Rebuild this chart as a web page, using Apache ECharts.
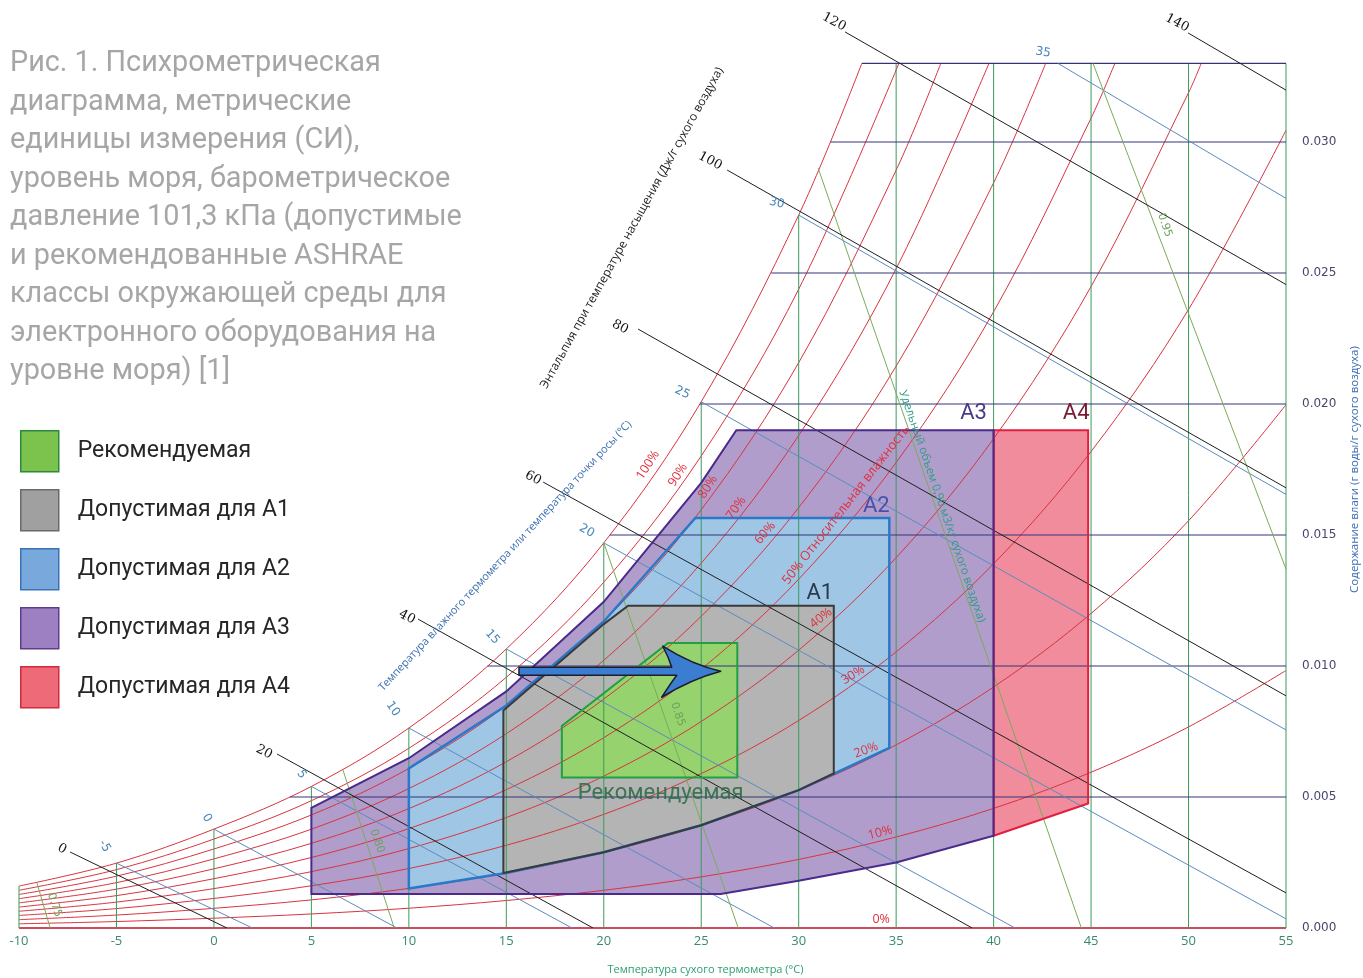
<!DOCTYPE html>
<html>
<head>
<meta charset="utf-8">
<script src="https://cdn.jsdelivr.net/npm/echarts@6/dist/echarts.min.js"></script>
<style>
  html, body { margin: 0; padding: 0; background: #ffffff; }
  #chart { width: 1363px; height: 978px; }
</style>
</head>
<body>
<div id="chart"></div>
<script>
// ---------- Psychrometric data (sea level, 101.3 kPa) ----------
// Dry-bulb temperatures (°C) at which the RH curves are tabulated
const tempSteps = [-10, -5, 0, 5, 10, 15, 20, 25, 30, 35, 40, 45, 50, 55];

// Humidity ratio (kg water / kg dry air) along each relative-humidity curve
const rh100 = [0.001600, 0.002476, 0.003775, 0.005403, 0.007632, 0.010650, 0.014699, 0.020086, 0.027210];
const rh90  = [0.001440, 0.002228, 0.003395, 0.004859, 0.006860, 0.009569, 0.013198, 0.018019, 0.024382];
const rh80  = [0.001279, 0.001979, 0.003016, 0.004315, 0.006091, 0.008491, 0.011704, 0.015966, 0.021579, 0.028927];
const rh70  = [0.001119, 0.001731, 0.002638, 0.003772, 0.005323, 0.007417, 0.010217, 0.013925, 0.018800, 0.025165];
const rh60  = [0.000959, 0.001483, 0.002259, 0.003231, 0.004557, 0.006347, 0.008737, 0.011898, 0.016045, 0.021446, 0.028442];
const rh50  = [0.000799, 0.001236, 0.001882, 0.002690, 0.003793, 0.005280, 0.007264, 0.009883, 0.013314, 0.017770, 0.023522, 0.030912];
const rh40  = [0.000639, 0.000988, 0.001504, 0.002150, 0.003031, 0.004217, 0.005797, 0.007882, 0.010605, 0.014135, 0.018677, 0.024486, 0.031882];
const rh30  = [0.000479, 0.000741, 0.001128, 0.001611, 0.002270, 0.003157, 0.004338, 0.005893, 0.007920, 0.010541, 0.013903, 0.018186, 0.023609, 0.030446];
const rh20  = [0.000319, 0.000494, 0.000751, 0.001073, 0.001512, 0.002101, 0.002885, 0.003916, 0.005258, 0.006988, 0.009200, 0.012007, 0.015543, 0.019972];
const rh10  = [0.000160, 0.000247, 0.000375, 0.000536, 0.000755, 0.001049, 0.001439, 0.001952, 0.002618, 0.003474, 0.004566, 0.005946, 0.007675, 0.009828];
const rhCurves = [rh100, rh90, rh80, rh70, rh60, rh50, rh40, rh30, rh20, rh10];
// Temperature where each RH curve meets the top border of the chart (null = runs to 55 °C)
const rhTopT = [33.24, 35.14, 37.29, 39.76, 42.67, 46.22, 50.65, null, null, null];
const topW = 0.033;

// Constant humidity-ratio lines: level and the dry-bulb where each leaves the saturation curve
const humidityLevels = [0.005, 0.010, 0.015, 0.020, 0.025, 0.030];
const humidityStartT = [3.90, 14.04, 20.32, 24.93, 28.59, 31.64];

// Wet-bulb / dew-point lines: label, point on saturation, end point
const wetBulbLabels = ['-5', '0', '5', '10', '15', '20', '25', '30', '35'];
const wetBulbStart = [[-5, 0.002476], [0, 0.003775], [5, 0.005403], [10, 0.007632], [15, 0.010650],
                      [20, 0.014699], [25, 0.020086], [30, 0.027210], [43.3, 0.033]];
const wetBulbEnd   = [[1.97, 0], [9.39, 0], [18.37, 0], [28.75, 0], [41.1, 0],
                      [55, 0.00035], [55, 0.00756], [55, 0.01655], [55, 0.02785]];

// Saturation enthalpy lines (kJ/kg dry air)
const enthalpyLabels = ['0', '20', '40', '60', '80', '100', '120', '140'];
const enthalpyStart = [[-7.38, 0.0029], [3.24, 0.00664], [10.47, 0.01179], [16.89, 0.01702],
                       [21.76, 0.02286], [26.33, 0.02893], [32.38, 0.0342], [49.98, 0.03416]];
const enthalpyEnd   = [[0.67, 0], [19.45, 0], [38.9, 0], [55, 0.00134],
                       [55, 0.00886], [55, 0.0168], [55, 0.02456], [55, 0.03198]];

// Specific volume lines (m3/kg dry air)
const volumeLabels = ['0.75', '0.80', '0.85', '0.90', '0.95'];
const volumeStart = [[-9.08, 0.00172], [6.62, 0.00603], [20.0, 0.0147], [31.0, 0.0290], [45.1, 0.033]];
const volumeEnd   = [[-8.4, 0], [9.25, 0], [26.9, 0], [44.5, 0], [55, 0.0137]];

// ASHRAE environmental envelopes (dry-bulb °C, humidity ratio)
const zoneRecommended = [[17.85, 0.00574], [26.85, 0.00574], [26.85, 0.01088], [23.3, 0.01088], [17.85, 0.00771]];
const zoneA1 = [[14.85, 0.00210], [20, 0.00289], [25, 0.00392], [30, 0.00526], [31.8, 0.0059],
                [31.8, 0.0123], [21.25, 0.0123], [20, 0.0116], [14.85, 0.0083]];
const zoneA2 = [[10, 0.00151], [15, 0.00210], [20, 0.00289], [25, 0.00392], [30, 0.00526], [34.65, 0.00687],
                [34.65, 0.01565], [24.7, 0.01565], [20, 0.0117], [15, 0.00849], [10, 0.00609]];
const zoneA3 = [[5, 0.00130], [26, 0.00130], [30, 0.0018], [35, 0.0025], [40, 0.00352],
                [40, 0.0190], [26.8, 0.0190], [25, 0.01699], [20, 0.01245], [15, 0.00903], [10, 0.00648], [5, 0.00459]];
const zoneA4 = [[40, 0.00352], [44.85, 0.00475], [44.85, 0.0190], [40, 0.0190]];

// Shift of operating point shown by the arrow
const arrowFrom = [15.65, 0.0098];
const arrowTo = [26.0, 0.0098];

const zoneNames = ['Рекомендуемая', 'Допустимая для A1', 'Допустимая для A2', 'Допустимая для A3', 'Допустимая для A4'];

// ---------- Styling ----------
const C = {
  rh: '#d8343f', dry: '#3c9a5a', wet: '#5a8cbe', hum: '#34347a', enth: '#1e1e1e', vol: '#7aab5a',
  title: '#a6a6a6'
};
const zoneStyle = [
  { fill: '#96d26e', stroke: '#22a040', width: 2,   legend: '#7cc34e', legendBorder: '#2b8a3e' },
  { fill: '#b4b4b4', stroke: '#3a3a3a', width: 2,   legend: '#a0a0a0', legendBorder: '#6a6a6a' },
  { fill: '#a0c6e6', stroke: '#2a78c8', width: 2.5, legend: '#78a8dc', legendBorder: '#3a72b8' },
  { fill: '#b09dcc', stroke: '#4b2a8c', width: 2,   legend: '#9c80c2', legendBorder: '#5d3c8f' },
  { fill: '#f08c9b', stroke: '#e0203c', width: 2,   legend: '#ee6a78', legendBorder: '#d22a3c' }
];
const zones = [zoneRecommended, zoneA1, zoneA2, zoneA3, zoneA4];

function lerp(a, b, t) { return [a[0] + (b[0] - a[0]) * t, a[1] + (b[1] - a[1]) * t]; }

function lineSeries(pts, color, width, z, extra) {
  return Object.assign({
    type: 'line', data: pts, symbol: 'none', silent: true, z: z,
    lineStyle: { color: color, width: width }, animation: false
  }, extra || {});
}

const series = [];

// Zone fills (drawn first, legend entries)
[4, 3, 2, 1, 0].forEach(i => {
  const pts = zones[i];
  series.push({
    type: 'custom', name: zoneNames[i], z: 1, silent: true, animation: false,
    data: [pts[0]],
    renderItem: (params, api) => ({
      type: 'polygon',
      shape: { points: pts.map(p => api.coord(p)) },
      style: { fill: zoneStyle[i].fill, stroke: null }
    })
  });
});

// Relative-humidity curves
rhCurves.forEach((w, k) => {
  const pts = w.map((v, i) => [tempSteps[i], v]);
  if (rhTopT[k] !== null) pts.push([rhTopT[k], topW]);
  series.push(lineSeries(pts, C.rh, 1, 2, { smooth: 0.35 }));
});
// 0 % line (bottom border)
series.push(lineSeries([[tempSteps[0], 0], [tempSteps[tempSteps.length - 1], 0]], '#c8505c', 2, 2));

// Dry-bulb verticals
tempSteps.forEach((t, i) => {
  const top = i < rh100.length ? rh100[i] : topW;
  series.push(lineSeries([[t, 0], [t, top]], C.dry, 1, 2));
});

// Humidity-ratio horizontals and top border
humidityLevels.forEach((w, i) => {
  series.push(lineSeries([[humidityStartT[i], w], [55, w]], C.hum, 1, 2));
});
series.push(lineSeries([[rhTopT[0], topW], [55, topW]], C.hum, 1.2, 2));

// Wet-bulb lines
wetBulbStart.forEach((p, i) => series.push(lineSeries([p, wetBulbEnd[i]], C.wet, 1, 2)));
// Specific volume lines
volumeStart.forEach((p, i) => series.push(lineSeries([p, volumeEnd[i]], C.vol, 1, 2)));
// Enthalpy lines
enthalpyStart.forEach((p, i) => series.push(lineSeries([p, enthalpyEnd[i]], C.enth, 1, 2)));

// Zone outlines on top of the grid
[4, 3, 2, 1, 0].forEach(i => {
  const pts = zones[i];
  series.push({
    type: 'custom', z: 3, silent: true, animation: false,
    data: [pts[0]],
    renderItem: (params, api) => ({
      type: 'polygon',
      shape: { points: pts.map(p => api.coord(p)) },
      style: { fill: null, stroke: zoneStyle[i].stroke, lineWidth: zoneStyle[i].width, lineJoin: 'miter' }
    })
  });
});

// ---------- Text annotations (anchored in data space, offset in px) ----------
const texts = [];
function addText(anchor, dx, dy, rot, text, color, size, family, extra) {
  texts.push(Object.assign({ anchor, dx, dy, rot, text, color, size, family }, extra || {}));
}
const serif = 'DejaVu Serif', sans = 'DejaVu Sans', open = 'Open Sans', rob = 'Roboto';

// wet-bulb numbers
const wetOffsets = [[-12, -17, -60], [-7, -11, -60], [-10, -12, -55], [-16, -19, -55], [-14, -12, -48],
                    [-17, -12, -30], [-19, -9, -25], [-22, -12, -15], [-15, -11, -10]];
wetBulbLabels.forEach((s, i) => {
  const o = wetOffsets[i];
  addText(wetBulbStart[i], o[0], o[1], o[2], s, '#4a86b8', 12, sans);
});
// enthalpy numbers
const enthOffsets = [[-8, -3], [-13, -2], [-11, -2], [-10, -4], [-18, -2], [-17, -9], [-11, -10], [-11, -10]];
enthalpyLabels.forEach((s, i) => {
  const o = enthOffsets[i];
  addText(enthalpyStart[i], o[0], o[1], -28, s, '#111111', 13, serif);
});
// specific volume numbers placed along their lines
const volumePlace = [[0.49, 11], [0.45, 11], [0.445, 14], null, [0.32, 10]];
volumeLabels.forEach((s, i) => {
  const pl = volumePlace[i];
  if (!pl) return;
  addText(lerp(volumeStart[i], volumeEnd[i], pl[0]), pl[1], 0, -71, s, '#6aa35a', 11, sans);
});
addText(lerp(volumeStart[3], volumeEnd[3], 0.445), 7, 0, -71,
  'Удельный объем 0,90 м3/кг сухого воздуха)', '#2e9e80', 11.5, open);

// relative humidity labels
const rhLabelSpots = [
  ['100%', [22.27, 0.01767], 57], ['90%', [23.81, 0.01729], 57], ['80%', [25.35, 0.01683], 57],
  ['70%', [26.79, 0.01603], 55], ['60%', [28.28, 0.01508], 50], ['40%', [31.15, 0.01183], 38],
  ['30%', [32.79, 0.00966], 32], ['20%', [33.46, 0.00679], 20], ['10%', [34.18, 0.00363], 14],
  ['0%', [34.23, 0.00031], 0]
];
rhLabelSpots.forEach(r => addText(r[1], 0, 0, r[2], r[0], '#e0303e', 12.5, open));
addText([32.43, 0.01615], 0, 0, 52, '50% Относительная влажность', '#e0303e', 13, open);

// scale titles inside the chart
addText([21.45, 0.02672], 0, 0, 61, 'Энтальпия при температуре насыщения (Дж/г сухого воздуха)', '#222222', 12, open);
addText([14.94, 0.0142], 0, 0, 47, 'Температура влажного термометра или температура точки росы (°C)', '#3b6fb0', 10.8, open);

// zone names
addText(zoneA3[5], -20, -17, 0, 'A3', '#4a3a8c', 22, rob);
addText(zoneA4[2], -12, -17, 0, 'A4', '#7a1a32', 22, rob);
addText(zoneA2[6], -13, -11, 0, 'A2', '#4a50aa', 22, rob);
addText(zoneA1[5], -14, -12, 0, 'A1', '#2a3a4c', 22, rob);
addText(lerp(zoneRecommended[0], zoneRecommended[1], 0.5), 11, 16, 0, 'Рекомендуемая', '#2f6e46', 22, rob, { opacity: 0.9 });

series.push({
  type: 'custom', z: 4, silent: true, animation: false,
  data: [[0, 0]],
  renderItem: (params, api) => ({
    type: 'group',
    children: texts.map(t => {
      const c = api.coord(t.anchor);
      return {
        type: 'text', x: c[0] + t.dx, y: c[1] + t.dy, rotation: t.rot * Math.PI / 180,
        style: {
          text: t.text, fill: t.color, fontSize: t.size, fontFamily: t.family,
          align: 'center', verticalAlign: 'middle', opacity: t.opacity == null ? 1 : t.opacity
        }
      };
    })
  })
});

// Arrow
series.push({
  type: 'custom', z: 5, silent: true, animation: false,
  data: [arrowFrom],
  renderItem: (params, api) => {
    const a = api.coord(arrowFrom), b = api.coord(arrowTo);
    const x0 = a[0], y = a[1], xt = b[0];
    const d = [
      'M', x0, y - 4, 'L', xt - 49, y - 4,
      'Q', xt - 52, y - 14, xt - 58, y - 25,
      'Q', xt - 28, y - 6, xt, y,
      'Q', xt - 30, y + 8, xt - 59, y + 26,
      'Q', xt - 50, y + 12, xt - 44, y + 4,
      'L', x0, y + 4, 'Z'
    ].join(' ');
    return {
      type: 'path', shape: { pathData: d },
      style: { fill: '#3b7dd0', stroke: '#1c1c2c', lineWidth: 1.5, lineJoin: 'round' }
    };
  }
});

const chart = echarts.init(document.getElementById('chart'), null, { renderer: 'canvas' });
chart.setOption({
  animation: false,
  backgroundColor: '#ffffff',
  title: {
    text: 'Рис. 1. Психрометрическая\nдиаграмма, метрические\nединицы измерения (СИ),\nуровень моря, барометрическое\nдавление 101,3 кПа (допустимые\nи рекомендованные ASHRAE\nклассы окружающей среды для\nэлектронного оборудования на\nуровне моря) [1]',
    left: 10, top: 45, padding: 0,
    textStyle: { color: C.title, fontSize: 28.8, lineHeight: 38.5, fontWeight: 'normal', fontFamily: rob }
  },
  legend: {
    orient: 'vertical', left: 20, top: 430, padding: 0, itemGap: 16.5,
    itemWidth: 38, itemHeight: 41, icon: 'rect', selectedMode: false,
    textStyle: { fontSize: 23, color: '#262626', fontFamily: rob, padding: [0, 0, 0, 14] },
    data: zoneNames.map((n, i) => ({
      name: n,
      itemStyle: { color: zoneStyle[i].legend, borderColor: zoneStyle[i].legendBorder, borderWidth: 1.5 }
    }))
  },
  grid: { left: 19, right: 77, top: 11, bottom: 50, containLabel: false, outerBoundsMode: 'none' },
  xAxis: {
    type: 'value', min: -10, max: 55, interval: 5,
    axisLine: { show: false }, axisTick: { show: false }, splitLine: { show: false },
    axisLabel: { margin: 7, color: '#3a8a6a', fontSize: 13, fontFamily: open },
    name: 'Температура сухого термометра (°C)', nameLocation: 'middle', nameGap: 36,
    nameTextStyle: { color: '#2aa070', fontSize: 11, fontFamily: open, padding: [0, 0, 0, 106] }
  },
  yAxis: {
    type: 'value', position: 'right', min: 0, max: 0.035, interval: 0.005,
    axisLine: { show: false }, axisTick: { show: false }, splitLine: { show: false },
    axisLabel: {
      margin: 16, color: '#46466e', fontSize: 12, fontFamily: sans,
      formatter: v => (v > 0.0301 ? '' : v.toFixed(3))
    },
    name: 'Содержание влаги (г воды/г сухого воздуха)', nameLocation: 'middle', nameRotate: 90, nameGap: 63,
    nameTextStyle: { color: '#3a6db5', fontSize: 11.5, fontFamily: open }
  },
  series: series
});
</script>
</body>
</html>
